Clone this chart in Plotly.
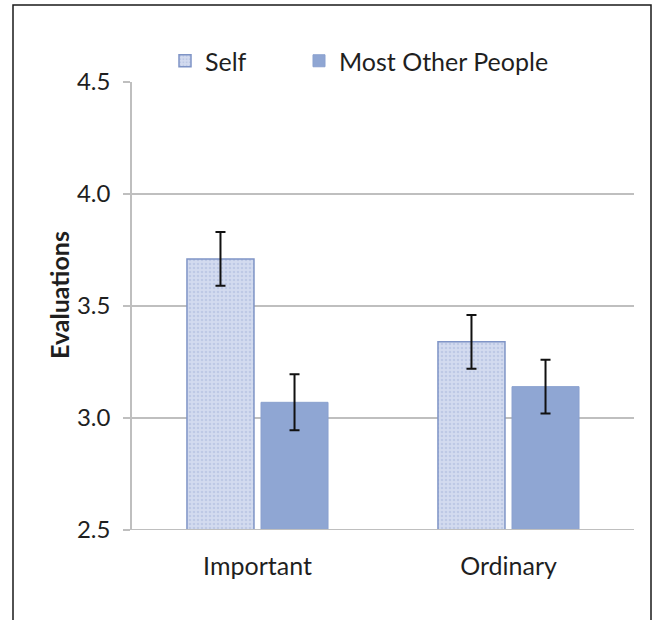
import plotly.graph_objects as go

# Data
categories = ["Important", "Ordinary"]
self_means = [3.71, 3.34]
self_err = [0.12, 0.12]
others_means = [3.07, 3.14]
others_err = [0.125, 0.12]
y_ticks = [2.5, 3.0, 3.5, 4.0, 4.5]
y_tick_text = ["2.5", "3.0", "3.5", "4.0", "4.5"]

W, H = 653, 620
L, R, T, B = 132, 19, 82, 90
pw, ph = W - L - R, H - T - B


def px_x(p):
    return (p - L) / pw


def px_y(p):
    return (H - B - p) / ph


FONT = "Lato, 'Open Sans', sans-serif"
TEXT = "#1f1f1f"
GRID = "#bfbfbf"

fig = go.Figure()
fig.add_trace(go.Bar(
    name="Self", x=categories, y=self_means, legend="legend",
    marker=dict(
        color="#cfd7ec",
        line=dict(color="#7f94c6", width=1.5),
        pattern=dict(shape=".", fgcolor="#a9b7dc", bgcolor="#d3dbef",
                     size=4, solidity=0.35),
    ),
    error_y=dict(type="data", array=self_err, visible=True,
                 color="#111111", thickness=2, width=5),
))
fig.add_trace(go.Bar(
    name="Most Other People", x=categories, y=others_means, legend="legend2",
    marker=dict(color="#8fa6d3", line=dict(color="#8aa1cf", width=1)),
    error_y=dict(type="data", array=others_err, visible=True,
                 color="#111111", thickness=2, width=5),
))

legend_style = dict(
    orientation="h", xanchor="left", yanchor="middle",
    font=dict(size=25, family=FONT, color=TEXT),
    itemwidth=30, bgcolor="rgba(0,0,0,0)",
)

fig.update_layout(
    width=W, height=H,
    margin=dict(l=L, r=R, t=T, b=B),
    paper_bgcolor="white", plot_bgcolor="white",
    barmode="group", bargap=0.41, bargroupgap=0.095,
    font=dict(family=FONT, color=TEXT),
    showlegend=True,
    legend=dict(x=px_x(165), y=px_y(61), **legend_style),
    legend2=dict(x=px_x(299), y=px_y(61), **legend_style),
    xaxis=dict(
        showgrid=False, showline=False, zeroline=False,
        ticks="outside", ticklen=14, tickcolor="rgba(0,0,0,0)",
        tickfont=dict(size=25, family=FONT, color=TEXT),
    ),
    yaxis=dict(
        range=[2.5, 4.5], tickvals=y_ticks, ticktext=y_tick_text,
        showgrid=True, gridcolor=GRID, gridwidth=1.5,
        showline=True, linecolor=GRID, linewidth=1.5,
        zeroline=False,
        ticks="outside", ticklen=7, tickcolor=GRID, tickwidth=1.5,
        ticklabelstandoff=8,
        tickfont=dict(size=24, family=FONT, color=TEXT),
    ),
)

# Baseline at 2.5 extending past the tick marks
fig.add_shape(type="line", xref="paper", yref="y",
              x0=px_x(125), x1=1, y0=2.5, y1=2.5,
              line=dict(color=GRID, width=2))

# Y axis title
fig.add_annotation(text="<b>Evaluations</b>", xref="paper", yref="paper",
                   x=px_x(42), y=px_y(295), textangle=-90, showarrow=False,
                   font=dict(size=25, family=FONT, color=TEXT))

# Outer frame
fig.add_shape(type="rect", xref="paper", yref="paper",
              x0=px_x(13), x1=px_x(651), y0=px_y(630), y1=px_y(5),
              line=dict(color="#1a1a1a", width=1.5), fillcolor="rgba(0,0,0,0)",
              layer="below")

fig.write_html("out.html")
